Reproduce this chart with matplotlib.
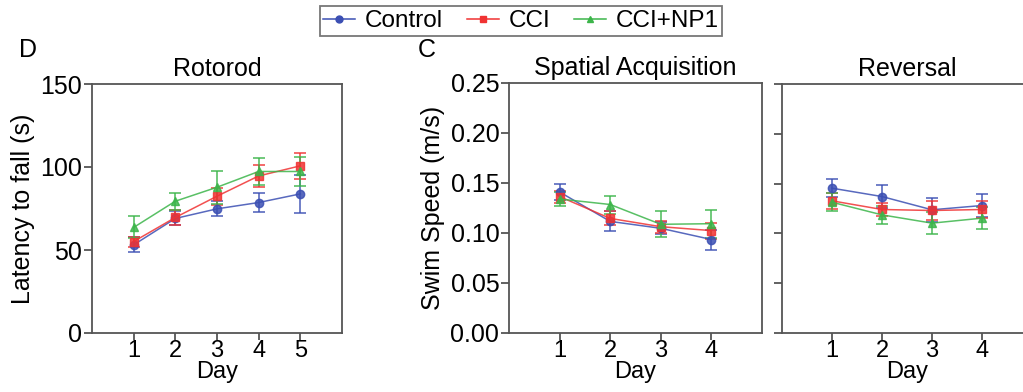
import numpy as np
import matplotlib
matplotlib.use("Agg")
import matplotlib.pyplot as plt

plt.rcParams['font.family'] = ['Liberation Sans', 'DejaVu Sans']

groups = ['Control', 'CCI', 'CCI+NP1']
colors = ['#3b4fb3', '#f03232', '#3cb54a']
markers = ['o', 's', '^']

# Rotorod, latency to fall (s)
rot_days = [1, 2, 3, 4, 5]
rot_mean = [[53.1, 69.0, 74.8, 78.6, 83.8],
            [55.1, 69.6, 82.4, 94.6, 100.7],
            [63.6, 79.4, 87.8, 97.3, 97.3]]
rot_err = [[4.6, 4.2, 4.6, 5.5, 11.5],
           [3.0, 4.5, 5.0, 6.5, 8.0],
           [6.6, 5.2, 10.0, 8.4, 8.8]]

# Morris water maze swim speed (m/s)
mwm_days = [1, 2, 3, 4]
acq_mean = [[0.141, 0.1116, 0.1047, 0.0935],
            [0.1364, 0.1146, 0.1063, 0.1024],
            [0.1340, 0.1285, 0.1087, 0.1093]]
acq_err = [[0.008, 0.010, 0.006, 0.010],
           [0.006, 0.007, 0.006, 0.008],
           [0.007, 0.009, 0.013, 0.014]]
rev_mean = [[0.1454, 0.1370, 0.1237, 0.1280],
            [0.1327, 0.1240, 0.1230, 0.1240],
            [0.1313, 0.1186, 0.1103, 0.1153]]
rev_err = [[0.009, 0.0115, 0.012, 0.012],
           [0.008, 0.007, 0.010, 0.009],
           [0.009, 0.009, 0.011, 0.011]]

W, H = 1023, 392
fig = plt.figure(figsize=(W / 100, H / 100), dpi=100)

def px_axes(x0, y0, x1, y1):
    return fig.add_axes([x0 / W, 1 - y1 / H, (x1 - x0) / W, (y1 - y0) / H])

def style(ax):
    for s in ax.spines.values():
        s.set_color('#555555')
        s.set_linewidth(1.3)
    ax.tick_params(direction='out', length=6, width=1.3, color='#555555',
                   labelsize=18, pad=1)
    ax.tick_params(axis='x', length=5, labelsize=17, pad=0)

def draw(ax, days, means, errs):
    for m, e, c, mk in zip(means, errs, colors, markers):
        ax.errorbar(days, m, yerr=e, color=c, marker=mk, markersize=6,
                    linewidth=1.1, elinewidth=1.2, capsize=4, capthick=1.2,
                    ecolor=c, alpha=0.85)

ax1 = px_axes(92, 84, 342, 333)
draw(ax1, rot_days, rot_mean, rot_err)
ax1.set_xlim(0, 6)
ax1.set_ylim(0, 150)
ax1.set_xticks(rot_days)
ax1.set_yticks([0, 50, 100, 150])
ax1.set_ylabel('Latency to fall (s)', fontsize=18, labelpad=4)
ax1.set_xlabel('Day', fontsize=17, labelpad=-1)
ax1.set_title('Rotorod', fontsize=18, pad=6)
style(ax1)

ax2 = px_axes(509, 83, 762, 333)
draw(ax2, mwm_days, acq_mean, acq_err)
ax2.set_xlim(0, 5)
ax2.set_ylim(0, 0.25)
ax2.set_xticks(mwm_days)
ax2.set_yticks([0, 0.05, 0.10, 0.15, 0.20, 0.25])
ax2.set_yticklabels(['0.00', '0.05', '0.10', '0.15', '0.20', '0.25'])
ax2.set_ylabel('Swim Speed (m/s)', fontsize=18, labelpad=4)
ax2.set_xlabel('Day', fontsize=17, labelpad=-1)
ax2.set_title('Spatial Acquisition', fontsize=18, pad=6)
style(ax2)

ax3 = px_axes(782, 84, 1032, 333)
draw(ax3, mwm_days, rev_mean, rev_err)
ax3.set_xlim(0, 5)
ax3.set_ylim(0, 0.25)
ax3.set_xticks(mwm_days)
ax3.set_yticks([0, 0.05, 0.10, 0.15, 0.20, 0.25])
ax3.set_yticklabels([])
ax3.set_xlabel('Day', fontsize=17, labelpad=-1)
ax3.set_title('Reversal', fontsize=18, pad=6)
style(ax3)

fig.text(28 / W, 1 - 50 / H, 'D', fontsize=18, ha='center', va='center')
fig.text(427 / W, 1 - 50 / H, 'C', fontsize=18, ha='center', va='center')

handles = [plt.Line2D([], [], color=c, marker=mk, markersize=5, linewidth=1.1)
           for c, mk in zip(colors, markers)]
leg = fig.legend(handles, groups, loc='center', bbox_to_anchor=(521 / W, 1 - 21 / H),
                 ncol=3, fontsize=17.5, frameon=True, fancybox=False,
                 handlelength=1.3, handletextpad=0.4, columnspacing=1.0,
                 borderpad=0.15, borderaxespad=0)
leg.get_frame().set_edgecolor('#555555')
leg.get_frame().set_linewidth(1.3)

fig.savefig('out.png', dpi=100)
